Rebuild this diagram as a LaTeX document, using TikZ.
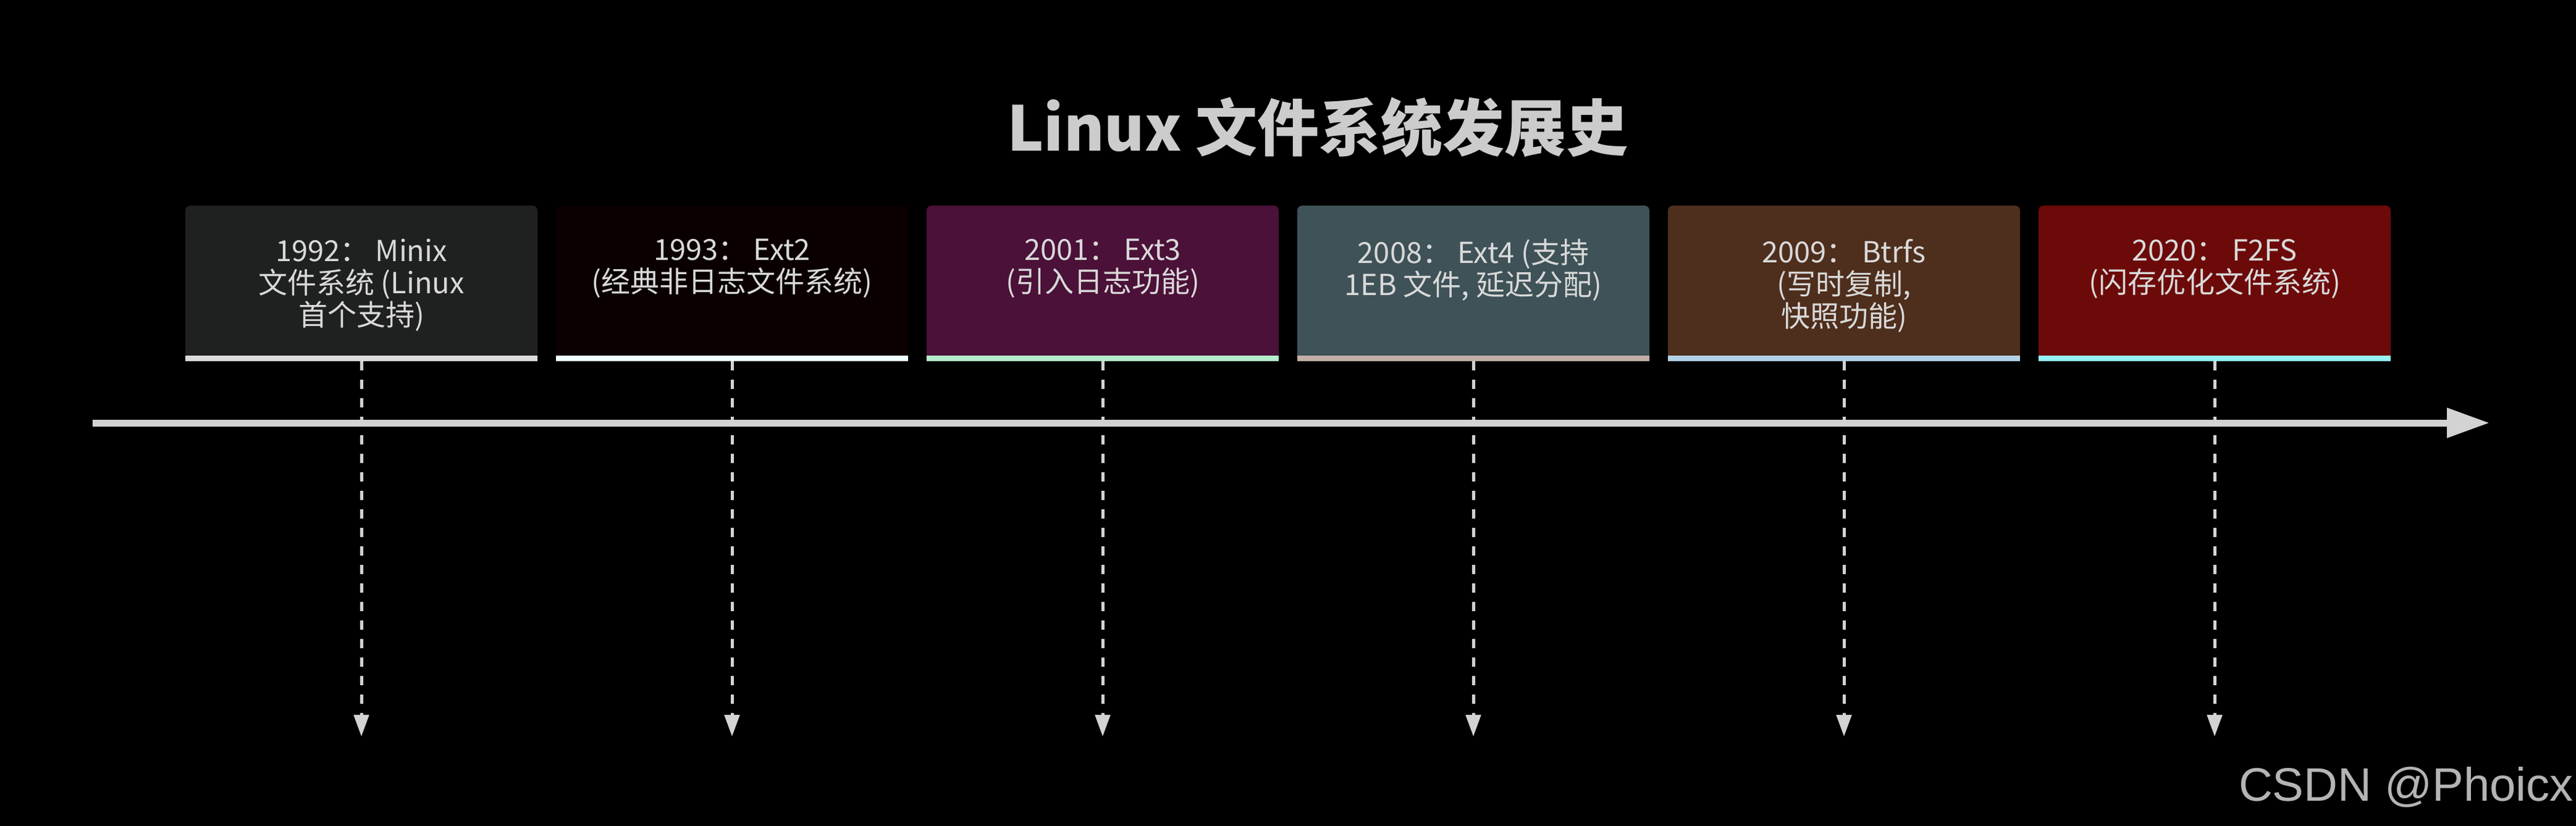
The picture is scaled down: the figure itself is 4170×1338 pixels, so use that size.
\documentclass[tikz,border=0pt]{standalone}
\usepackage{fontspec}
\setmainfont{Noto Sans CJK SC}
\newfontfamily\wmfont{Liberation Sans}
\usetikzlibrary{arrows.meta}
\definecolor{fillA}{RGB}{31,33,32}
\definecolor{fillB}{RGB}{10,0,0}
\definecolor{fillC}{RGB}{75,17,56}
\definecolor{fillD}{RGB}{62,82,87}
\definecolor{fillE}{RGB}{78,46,28}
\definecolor{fillF}{RGB}{108,10,10}
\definecolor{barA}{RGB}{220,220,220}
\definecolor{barB}{RGB}{240,255,255}
\definecolor{barC}{RGB}{180,238,204}
\definecolor{barD}{RGB}{196,174,168}
\definecolor{barE}{RGB}{178,210,230}
\definecolor{barF}{RGB}{150,243,245}
\definecolor{txtgray}{RGB}{217,217,217}
\definecolor{titlegray}{RGB}{204,204,204}
\definecolor{linegray}{RGB}{211,211,211}
\definecolor{wmgray}{RGB}{180,180,180}
\begin{document}
\begin{tikzpicture}[x=1pt,y=-1pt,
  card/.style={rectangle, rounded corners=8pt, minimum width=570pt, minimum height=252pt, inner sep=0pt, outer sep=0pt},
  cardtext/.style={anchor=north, align=center, text=txtgray, font=\fontsize{47}{52}\selectfont, inner sep=0pt},
  drop/.style={draw=linegray, line width=5pt, dash pattern=on 15pt off 15pt, -{Triangle[width=24pt,length=35pt]}},
  axis/.style={draw=linegray, line width=11pt, -{Triangle[width=46pt,length=69pt]}},
  titletext/.style={anchor=base, text=titlegray, font=\fontsize{100}{110}\selectfont\bfseries, inner sep=0pt},
  wmtext/.style={anchor=base east, text=wmgray, font=\wmfont\fontsize{76}{80}\selectfont, inner sep=0pt}]
\fill[black] (0,0) rectangle (4170,1338);
\useasboundingbox (0,0) rectangle (4170,1338);

\node[titletext] (title) at (2133,244) {Linux 文件系统发展史};

\coordinate (axisstart) at (150,685);
\coordinate (axisend) at (4030,685);
\draw[axis] (axisstart) -- (axisend);

\foreach \i/\fc/\bc/\txt in {
  1/fillA/barA/{1992： Minix\\文件系统 (Linux\\首个支持)},
  2/fillB/barB/{1993： Ext2\\(经典非日志文件系统)},
  3/fillC/barC/{2001： Ext3\\(引入日志功能)},
  4/fillD/barD/{2008： Ext4 (支持\\1EB 文件, 延迟分配)},
  5/fillE/barE/{2009： Btrfs\\(写时复制,\\快照功能)},
  6/fillF/barF/{2020： F2FS\\(闪存优化文件系统)}} {
  \node[card, fill=\fc] (card\i) at ({585+600*(\i-1)},459) {};
  \fill[\bc] (card\i.south west) rectangle ([yshift=9pt]card\i.south east);
  \node[cardtext] (label\i) at ([yshift=-54pt]card\i.north) {\txt};
  \coordinate (tip\i) at ({585+600*(\i-1)},1193);
  \draw[drop] (card\i.south) -- (tip\i);
}

\node[wmtext] (watermark) at (4166,1297) {CSDN @Phoicx};
\end{tikzpicture}
\end{document}
